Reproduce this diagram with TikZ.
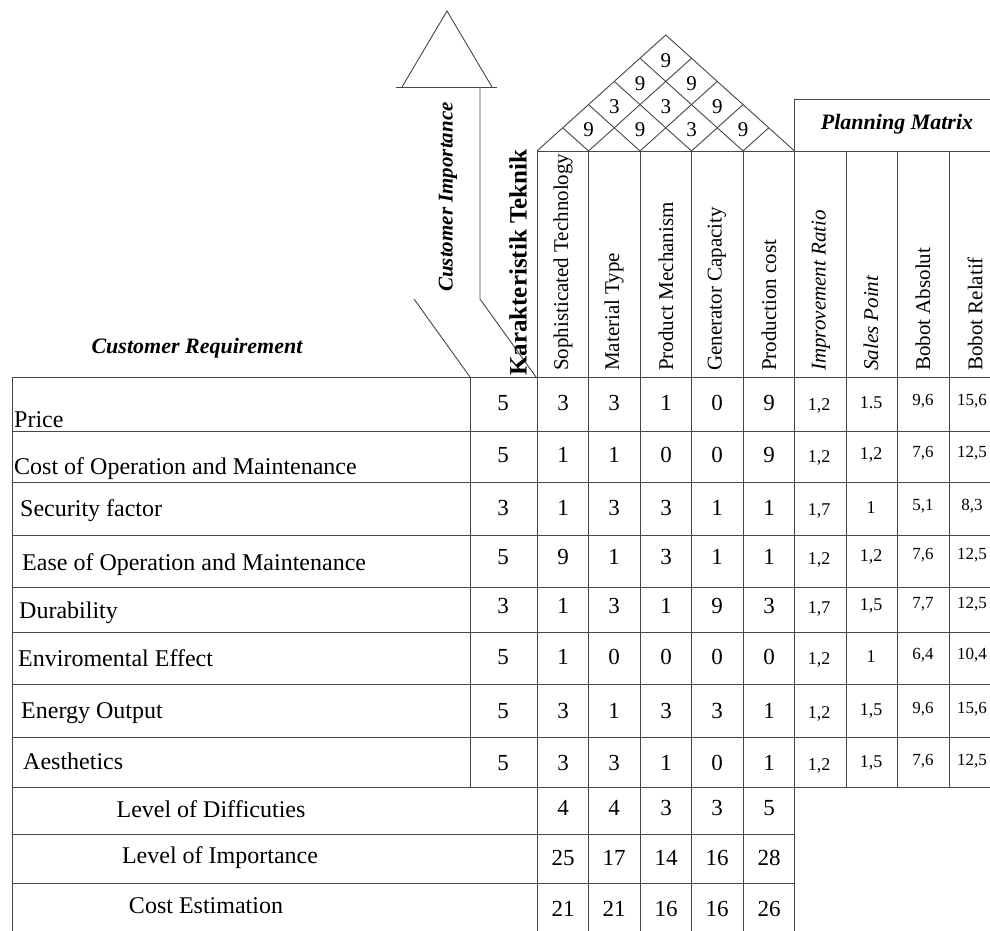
\documentclass[tikz,border=0pt]{standalone}
\usepackage{fontspec}
\setmainfont{Liberation Serif}
\usepackage{xcolor}
\usepackage{tikz}
\usetikzlibrary{positioning}
\definecolor{gridgray}{RGB}{70, 70, 70}

\begin{document}
\begin{tikzpicture}[x=1pt, y=-1pt,
    gridline/.style={draw=gridgray, line width=0.9pt},
    reqlabel/.style={anchor=base west, inner sep=0pt, font=\fontsize{24}{28}\selectfont},
    sumlabel/.style={inner sep=0pt, font=\fontsize{24}{28}\selectfont},
    techvalue/.style={inner sep=0pt, font=\fontsize{23}{26}\selectfont},
    planvalue/.style={inner sep=0pt, font=\fontsize{18}{20}\selectfont},
    bobotvalue/.style={inner sep=0pt, font=\fontsize{17}{19}\selectfont},
    colhead/.style={rotate=90, anchor=west, inner sep=0pt, font=\fontsize{21}{24}\selectfont},
    colheadit/.style={colhead, font=\itshape\fontsize{21}{24}\selectfont},
    roofvalue/.style={inner sep=0pt, font=\fontsize{21}{24}\selectfont},
    headtitle/.style={inner sep=0pt, font=\bfseries\itshape\fontsize{22}{24}\selectfont},
]
    \useasboundingbox (0,0) rectangle (990,931);
    \clip (0,0) rectangle (990,931);

    % importance arrow
    \draw[gridline] (402,87) -- (447,11) -- (492,87);
    \draw[gridline] (396,87) -- (497,87);
    \draw[gridline] (480,87) -- (480,299) -- (536,377);
    \draw[gridline] (414,299) -- (470,377);

    % roof
    \draw[gridline] (537,151) -- (665.75,35) -- (794.5,151);
    \foreach \k in {1,...,4} {
        \draw[gridline] ({537+51.5*\k},151) -- ++({(5-\k)*25.75},{-(5-\k)*23.2});
        \draw[gridline] ({537+51.5*\k},151) -- ++({-\k*25.75},{-\k*23.2});
    }
    \foreach \i/\j/\v in {1/2/9, 2/3/9, 3/4/3, 4/5/9, 1/3/3, 2/4/3, 3/5/9, 1/4/9, 2/5/9, 1/5/9}
        \node[roofvalue] (roof\i\j) at ({537+25.75*(\i+\j-1)},{151-23.2*(\j-\i)+2}) {\v};

    % grid
    \draw[gridline] (537,151) -- (1000,151);
    \draw[gridline] (794.5,99) -- (1000,99);
    \draw[gridline] (12,377) -- (12,935);
    \draw[gridline] (470,377) -- (470,787);
    \foreach \x in {537,588.5,640,691.5,743}
        \draw[gridline] (\x,151) -- (\x,935);
    \draw[gridline] (794.5,99) -- (794.5,935);
    \foreach \x in {846,897.5,949}
        \draw[gridline] (\x,151) -- (\x,787);
    \foreach \y in {377,431,482,535,587,632,684,737,787}
        \draw[gridline] (12,\y) -- (1000,\y);
    \foreach \y in {834,883}
        \draw[gridline] (12,\y) -- (794.5,\y);

    % headings
    \node[headtitle] (planning) at (897,124) {Planning Matrix};
    \node[headtitle] (custreq) at (197,348) {Customer Requirement};
    \node[colhead, font=\bfseries\itshape\fontsize{21}{24}\selectfont] (custimp) at (448,292) {Customer Importance};
    \node[colhead, font=\bfseries\fontsize{25}{27}\selectfont] (karakter) at (518,376) {Karakteristik Teknik};

    \node[colhead] (tech1) at (563,371) {Sophisticated Technology};
    \node[colhead] (tech2) at (614,371) {Material Type};
    \node[colhead] (tech3) at (666,371) {Product Mechanism};
    \node[colhead] (tech4) at (717,371) {Generator Capacity};
    \node[colhead] (tech5) at (769,371) {Production cost};
    \node[colheadit] (plan1) at (821,371) {Improvement Ratio};
    \node[colheadit] (plan2) at (871,371) {Sales Point};
    \node[colhead] (plan3) at (923,371) {Bobot Absolut};
    \node[colhead] (plan4) at (975,371) {Bobot Relatif};

    % customer requirements
    \foreach \y/\x/\txt [count=\r] in {427/14/Price, 474/14/Cost of Operation and Maintenance,
        516/20/Security factor, 570/22/Ease of Operation and Maintenance, 618/19/Durability,
        666/18/Enviromental Effect, 718/21/Energy Output, 769/23/Aesthetics}
        \node[reqlabel] (req\r) at (\x,\y) {\txt};

    \node[sumlabel] (diff) at (211,809) {Level of Difficuties};
    \node[sumlabel] (imp) at (220,858) {Level of Importance};
    \node[sumlabel] (cost) at (206,906) {Cost Estimation};

    % relationship values
    \foreach \y/\w/\a/\b/\c/\d/\e [count=\r] in {403/5/3/3/1/0/9, 455/5/1/1/0/0/9, 508/3/1/3/3/1/1,
        557/5/9/1/3/1/1, 606/3/1/3/1/9/3, 657/5/1/0/0/0/0, 711/5/3/1/3/3/1, 763/5/3/3/1/0/1} {
        \node[techvalue] (w\r) at (503,\y) {\w};
        \node[techvalue] (v\r-1) at (563,\y) {\a};
        \node[techvalue] (v\r-2) at (614,\y) {\b};
        \node[techvalue] (v\r-3) at (666,\y) {\c};
        \node[techvalue] (v\r-4) at (717,\y) {\d};
        \node[techvalue] (v\r-5) at (769,\y) {\e};
    }
    \foreach \y/\a/\b/\c/\d/\e [count=\r] in {808/4/4/3/3/5, 858/25/17/14/16/28, 909/21/21/16/16/26} {
        \node[techvalue] (s\r-1) at (563,\y) {\a};
        \node[techvalue] (s\r-2) at (614,\y) {\b};
        \node[techvalue] (s\r-3) at (666,\y) {\c};
        \node[techvalue] (s\r-4) at (717,\y) {\d};
        \node[techvalue] (s\r-5) at (769,\y) {\e};
    }

    % planning values
    \foreach \y/\ra/\sp/\ba/\br [count=\r] in {403/{1,2}/1.5/{9,6}/{15,6}, 455/{1,2}/{1,2}/{7,6}/{12,5},
        508/{1,7}/1/{5,1}/{8,3}, 557/{1,2}/{1,2}/{7,6}/{12,5}, 606/{1,7}/{1,5}/{7,7}/{12,5},
        657/{1,2}/1/{6,4}/{10,4}, 711/{1,2}/{1,5}/{9,6}/{15,6}, 763/{1,2}/{1,5}/{7,6}/{12,5}} {
        \node[planvalue] (p\r-1) at (819,\y+3) {\ra};
        \node[planvalue] (p\r-2) at (871,\y) {\sp};
        \node[bobotvalue] (p\r-3) at (923,\y-2) {\ba};
        \node[bobotvalue] (p\r-4) at (972,\y-2) {\br};
    }
\end{tikzpicture}
\end{document}
